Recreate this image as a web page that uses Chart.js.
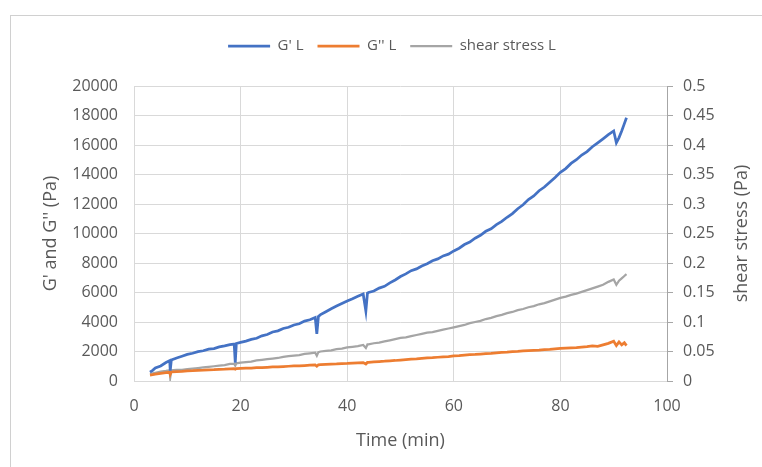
<!DOCTYPE html>
<html>
<head>
<meta charset="utf-8">
<title>G' / G'' / shear stress</title>
<script src="https://cdn.jsdelivr.net/npm/chart.js@4.4.1/dist/chart.umd.min.js"></script>
<style>
  html, body { margin: 0; padding: 0; background: #fff; }
  #chart { display: block; }
</style>
</head>
<body>
<canvas id="chart" width="762" height="467"></canvas>
<script>
/* Rheology run L: storage / loss modulus and shear stress vs time */

// sample times (min)
const times = [
  3, 3.5, 4, 5, 6, 6.7, 6.8, 7, 8, 9,
  10, 11, 12, 13, 14, 15, 16, 17, 18, 18.8,
  19, 19.2, 20, 21, 22, 23, 24, 25, 26, 27,
  28, 29, 30, 31, 32, 33, 34, 34.3, 34.6, 35,
  36, 37, 38, 39, 40, 41, 42, 43, 43.5, 43.8,
  44, 45, 46, 47, 48, 49, 50, 51, 52, 53,
  54, 55, 56, 57, 58, 59, 60, 61, 62, 63,
  64, 65, 66, 67, 68, 69, 70, 71, 72, 73,
  74, 75, 76, 77, 78, 79, 80, 81, 82, 83,
  84, 85, 86, 87, 88, 89, 90, 90.5, 91, 91.5,
  92, 92.4
];

// G' L (Pa)
const gPrime = [
  600, 720, 880, 1020, 1250, 1380, 700, 1420, 1560, 1680,
  1800, 1880, 1990, 2050, 2160, 2200, 2310, 2380, 2470, 2500,
  1250, 2540, 2620, 2700, 2820, 2900, 3060, 3150, 3320, 3400,
  3560, 3640, 3800, 3880, 4060, 4150, 4300, 3200, 4380, 4500,
  4700, 4900, 5080, 5250, 5420, 5580, 5750, 5900, 4750, 5960,
  6000, 6100, 6300, 6420, 6650, 6850, 7080, 7260, 7480, 7600,
  7800, 7950, 8150, 8280, 8480, 8600, 8820, 9000, 9250, 9420,
  9680, 9880, 10150, 10320, 10600, 10820, 11100, 11350, 11680, 11950,
  12300, 12550, 12900, 13150, 13480, 13800, 14150, 14400, 14750, 15000,
  15320, 15550, 15880, 16150, 16420, 16700, 16950, 16150, 16500, 16950,
  17450, 17850
];

// G'' L (Pa)
const gDoublePrime = [
  400, 430, 470, 520, 560, 590, 450, 610, 640, 660,
  690, 700, 720, 730, 760, 770, 790, 800, 820, 830,
  800, 840, 850, 870, 880, 900, 910, 930, 950, 960,
  980, 1000, 1020, 1030, 1050, 1070, 1090, 1000, 1100, 1110,
  1130, 1150, 1160, 1180, 1190, 1210, 1230, 1250, 1150, 1260,
  1270, 1300, 1320, 1340, 1370, 1390, 1420, 1450, 1480, 1500,
  1530, 1560, 1580, 1610, 1640, 1660, 1700, 1720, 1750, 1780,
  1800, 1830, 1860, 1880, 1910, 1940, 1960, 1990, 2010, 2040,
  2060, 2080, 2100, 2130, 2150, 2180, 2210, 2230, 2250, 2270,
  2300, 2330, 2380, 2350, 2450, 2550, 2700, 2400, 2650, 2450,
  2600, 2400
];

// shear stress L (Pa), right axis
const shearStress = [
  0.012, 0.013, 0.014, 0.016, 0.017, 0.018, 0.006, 0.018, 0.019, 0.019,
  0.020, 0.021, 0.022, 0.023, 0.024, 0.025, 0.026, 0.027, 0.029, 0.029,
  0.026, 0.030, 0.031, 0.032, 0.033, 0.035, 0.036, 0.037, 0.038, 0.039,
  0.041, 0.042, 0.043, 0.044, 0.046, 0.047, 0.048, 0.043, 0.049, 0.050,
  0.051, 0.052, 0.054, 0.055, 0.057, 0.058, 0.059, 0.061, 0.056, 0.062,
  0.062, 0.064, 0.065, 0.067, 0.069, 0.071, 0.073, 0.074, 0.076, 0.078,
  0.080, 0.082, 0.083, 0.085, 0.087, 0.089, 0.091, 0.093, 0.095, 0.098,
  0.100, 0.102, 0.105, 0.107, 0.110, 0.112, 0.115, 0.117, 0.120, 0.122,
  0.125, 0.127, 0.130, 0.132, 0.135, 0.138, 0.141, 0.143, 0.146, 0.148,
  0.151, 0.154, 0.157, 0.160, 0.163, 0.168, 0.172, 0.163, 0.170, 0.174,
  0.178, 0.181
];

const modulusTicks = ['0', '2000', '4000', '6000', '8000', '10000', '12000', '14000', '16000', '18000', '20000'];
const stressTicks = ['0', '0.05', '0.1', '0.15', '0.2', '0.25', '0.3', '0.35', '0.4', '0.45', '0.5'];
const timeTicks = ['0', '20', '40', '60', '80', '100'];

const TEXT = '#595959';
const GRID = '#d9d9d9';
const FONT = '"Open Sans", "Liberation Sans", sans-serif';

function series(values) {
  return times.map((t, i) => ({ x: t, y: values[i] }));
}

// white page with the light outer frame
const frame = {
  id: 'frame',
  beforeDraw(chart) {
    const ctx = chart.ctx;
    ctx.save();
    ctx.fillStyle = '#fff';
    ctx.fillRect(0, 0, chart.width, chart.height);
    ctx.strokeStyle = '#d0d0d0';
    ctx.lineWidth = 1;
    ctx.strokeRect(10.5, 15.5, 900, 600);
    ctx.restore();
  }
};

// right axis title, reading bottom to top like the left one
const rightTitle = {
  id: 'rightTitle',
  afterDraw(chart) {
    const ctx = chart.ctx;
    const area = chart.chartArea;
    ctx.save();
    ctx.translate(742, (area.top + area.bottom) / 2);
    ctx.rotate(-Math.PI / 2);
    ctx.font = '18px ' + FONT;
    ctx.fillStyle = TEXT;
    ctx.textAlign = 'center';
    ctx.textBaseline = 'middle';
    ctx.fillText('shear stress (Pa)', 0, 0);
    ctx.restore();
  }
};

const chart = new Chart(document.getElementById('chart'), {
  type: 'line',
  data: {
    datasets: [
      {
        label: "G' L",
        data: series(gPrime),
        borderColor: '#4472C4',
        backgroundColor: '#4472C4',
        borderWidth: 2.75,
        yAxisID: 'y'
      },
      {
        label: "G'' L",
        data: series(gDoublePrime),
        borderColor: '#ED7D31',
        backgroundColor: '#ED7D31',
        borderWidth: 2.75,
        yAxisID: 'y'
      },
      {
        label: 'shear stress L',
        data: series(shearStress),
        borderColor: '#A5A5A5',
        backgroundColor: '#A5A5A5',
        borderWidth: 2.25,
        yAxisID: 'y2'
      }
    ]
  },
  options: {
    responsive: false,
    animation: false,
    devicePixelRatio: 1,
    elements: {
      point: { radius: 0, hoverRadius: 0 },
      line: { tension: 0 }
    },
    layout: { padding: { left: 36, right: 14, top: 24.5, bottom: 15.2 } },
    plugins: {
      tooltip: { enabled: false },
      legend: {
        position: 'top',
        labels: {
          usePointStyle: true,
          pointStyle: 'line',
          pointStyleWidth: 42,
          padding: 14,
          color: TEXT,
          font: { family: FONT, size: 15 }
        }
      }
    },
    scales: {
      // spacer between legend and plot
      pad: {
        type: 'linear',
        position: 'top',
        display: true,
        grid: { display: false },
        border: { display: false },
        ticks: { display: false },
        afterFit(s) { s.height = 22.5; }
      },
      x: {
        type: 'linear',
        min: 0,
        max: 100,
        ticks: {
          stepSize: 20,
          padding: 16,
          color: TEXT,
          font: { family: FONT, size: 16 },
          callback: (v, i) => timeTicks[i]
        },
        grid: { color: GRID, drawTicks: false },
        border: { color: GRID },
        title: {
          display: true,
          text: 'Time (min)',
          color: TEXT,
          font: { family: FONT, size: 18 },
          padding: { top: 0, bottom: 0 }
        },
        afterFit(s) { s.height = 70.8; }
      },
      y: {
        position: 'left',
        min: 0,
        max: 20000,
        ticks: {
          stepSize: 2000,
          padding: 16,
          color: TEXT,
          font: { family: FONT, size: 16 },
          callback: (v, i) => modulusTicks[i]
        },
        grid: { color: GRID, drawTicks: false },
        border: { display: false },
        title: {
          display: true,
          text: "G' and G'' (Pa)",
          color: TEXT,
          font: { family: FONT, size: 18 },
          padding: { top: 4, bottom: 0 }
        },
        afterFit(s) { s.width = 98; }
      },
      y2: {
        position: 'right',
        min: 0,
        max: 0.5,
        ticks: {
          stepSize: 0.05,
          padding: 10,
          color: TEXT,
          font: { family: FONT, size: 16 },
          callback: (v, i) => stressTicks[i]
        },
        grid: {
          drawOnChartArea: false,
          drawTicks: true,
          tickLength: 6,
          tickColor: '#a6a6a6'
        },
        border: { color: '#a6a6a6' },
        afterFit(s) { s.width = 81; }
      }
    }
  },
  plugins: [frame, rightTitle]
});
</script>
</body>
</html>
